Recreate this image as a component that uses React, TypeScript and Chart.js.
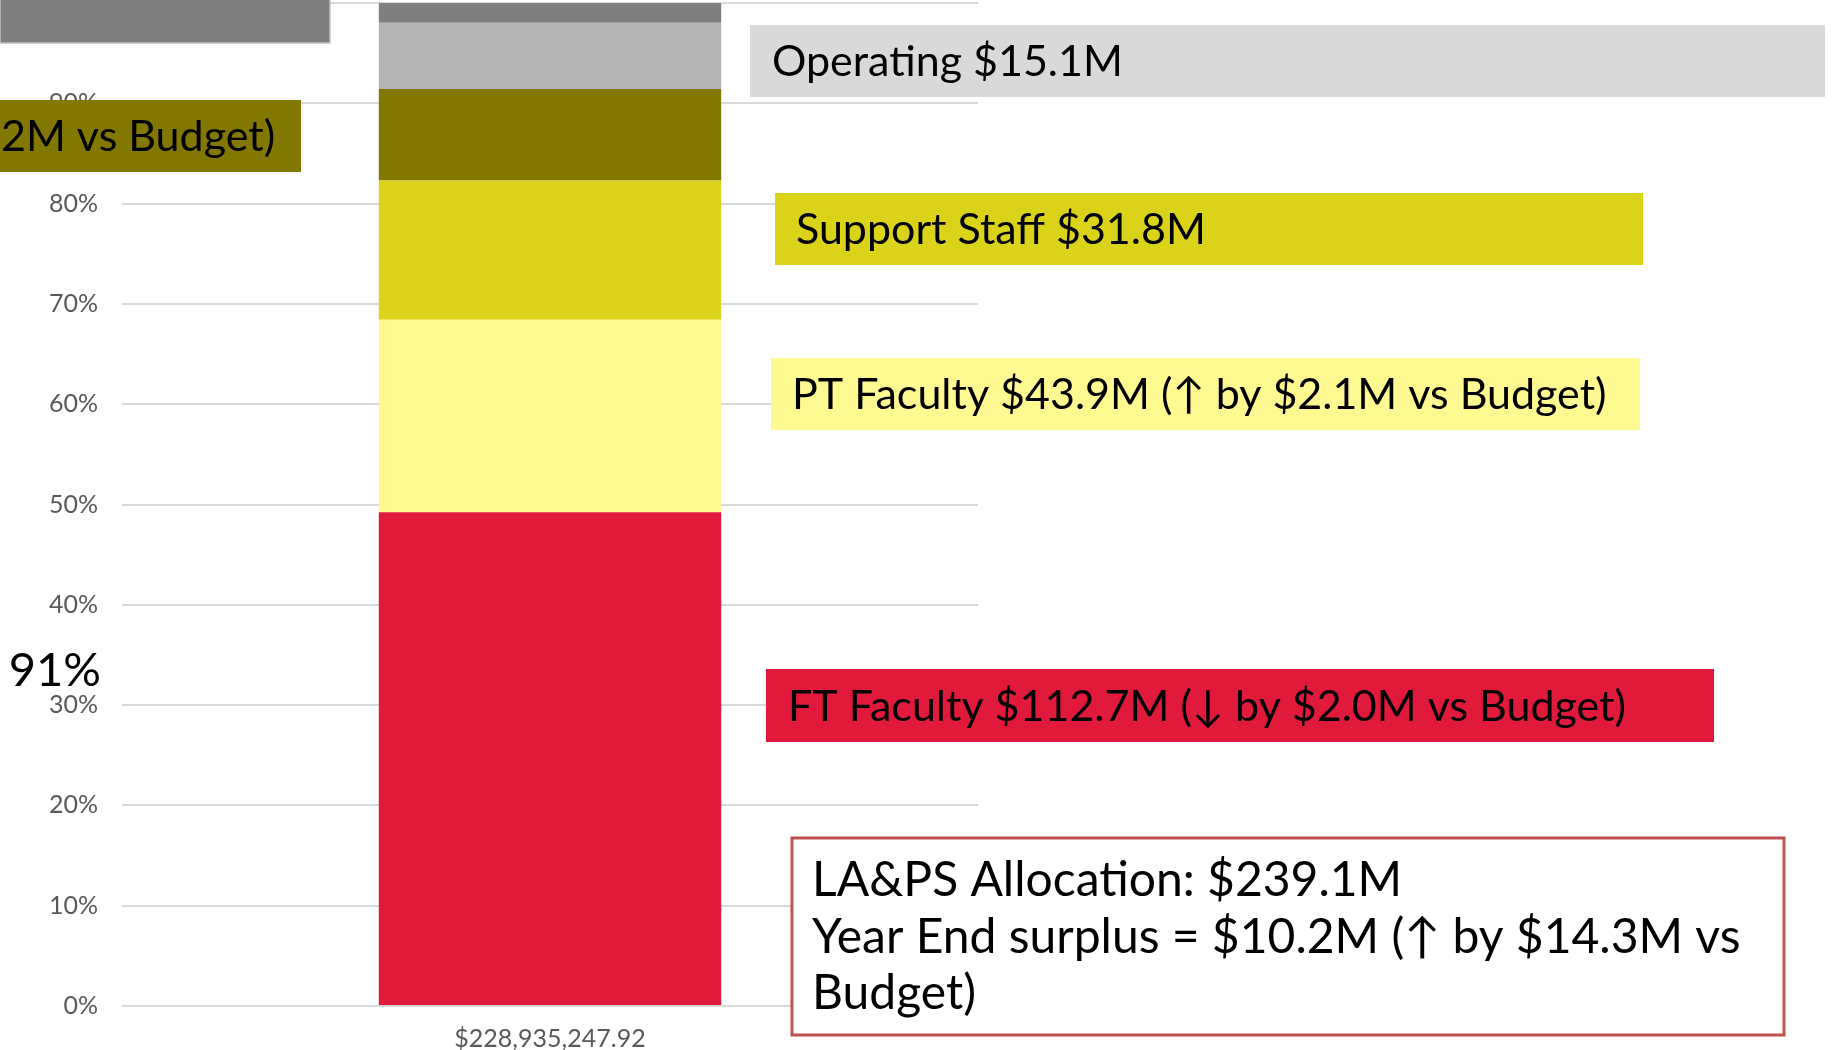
import React, { useEffect, useRef } from 'react';
import { Chart, registerables } from 'chart.js';

Chart.register(...registerables);

// ---------- data ----------
const categories = ['$228,935,247.92'];
const seriesNames = ['FT Faculty', 'PT Faculty', 'Support Staff', 'Other Salaries', 'Operating', 'Other'];
const seriesValuesM = [112.7, 43.9, 31.8, 20.9, 15.1, 4.5];
const seriesColors = ['#E1193A', '#FFF991', '#DBD31A', '#827800', '#B4B4B4', '#7F7F7F'];
const yTickValues = [0, 10, 20, 30, 40, 50, 60, 70, 80, 90, 100];
const salarySeriesCount = 4;

const labelTexts = [
  'Operating $15.1M',
  'Support Staff $31.8M',
  'PT Faculty $43.9M (↑ by $2.1M vs Budget)',
  'FT Faculty $112.7M (↓ by $2.0M vs Budget)',
  '2M vs Budget)',
];
const summaryLines = [
  'LA&PS Allocation: $239.1M',
  'Year End surplus = $10.2M (↑ by $14.3M vs',
  'Budget)',
];

// ---------- layout / style ----------
const W = 1833;
const H = 1050;
const FONT = 'Lato, "Liberation Sans", sans-serif';
const BIG = 43;
const SUMMARY = 48;
const CAP = 15;

type Box = { x: number; y: number; w: number; h: number; fill: string; stroke?: string; text?: string; tx?: number; align?: CanvasTextAlign };

const boxes: Box[] = [
  { x: 0, y: -2, w: 330, h: 45, fill: '#7F7F7F', stroke: '#C4BEB8' },
  { x: 750, y: 25, w: 1075, h: 72, fill: '#D9D9D9', text: labelTexts[0], tx: 772 },
  { x: 775, y: 193, w: 868, h: 72, fill: '#DBD31A', text: labelTexts[1], tx: 796 },
  { x: 771, y: 358, w: 869, h: 72, fill: '#FFF991', text: labelTexts[2], tx: 792 },
  { x: 766, y: 669, w: 948, h: 73, fill: '#E1193A', text: labelTexts[3], tx: 788 },
  { x: -2, y: 100, w: 303, h: 72, fill: '#827800', text: labelTexts[4], tx: 1, align: 'left' },
];

const total = seriesValuesM.reduce((a, b) => a + b, 0);
const shares = seriesValuesM.map((v) => (v / total) * 100);
const salaryShare = seriesValuesM.slice(0, salarySeriesCount).reduce((a, b) => a + b, 0) / total * 100;

const annotationPlugin = {
  id: 'annotations',
  afterDraw(chart: any) {
    const ctx: CanvasRenderingContext2D = chart.ctx;
    ctx.save();
    ctx.font = `${BIG}px ${FONT}`;
    ctx.textBaseline = 'alphabetic';
    for (const b of boxes) {
      ctx.fillStyle = b.fill;
      ctx.fillRect(b.x, b.y, b.w, b.h);
      if (b.stroke) {
        ctx.strokeStyle = b.stroke;
        ctx.lineWidth = 1.5;
        ctx.strokeRect(b.x, b.y, b.w, b.h);
      }
      if (b.text) {
        ctx.fillStyle = '#000000';
        ctx.textAlign = b.align || 'left';
        ctx.fillText(b.text, b.tx as number, b.y + b.h / 2 + CAP);
      }
    }
    // share of salaries
    ctx.font = `47px ${FONT}`;
    ctx.fillStyle = '#000000';
    ctx.textAlign = 'right';
    ctx.fillText(`${Math.round(salaryShare)}%`, 101, 686);

    // summary box
    ctx.fillStyle = '#FFFFFF';
    ctx.fillRect(792, 838, 992, 197);
    ctx.strokeStyle = '#C0504D';
    ctx.lineWidth = 3;
    ctx.strokeRect(792, 838, 992, 197);
    ctx.font = `${SUMMARY}px ${FONT}`;
    ctx.fillStyle = '#000000';
    ctx.textAlign = 'left';
    summaryLines.forEach((line, i) => {
      ctx.fillText(line, 812, 896 + i * 56.5);
    });
    ctx.restore();
  },
};

export default function App() {
  const ref = useRef<HTMLCanvasElement | null>(null);

  useEffect(() => {
    if (!ref.current) return;
    const chart = new Chart(ref.current, {
      type: 'bar',
      data: {
        labels: categories,
        datasets: seriesNames.map((name, i) => ({
          label: name,
          data: [shares[i]],
          backgroundColor: seriesColors[i],
          borderWidth: 0,
          barPercentage: 0.4,
          categoryPercentage: 1,
        })),
      },
      options: {
        animation: false,
        responsive: false,
        maintainAspectRatio: false,
        layout: { padding: { top: 3, right: W - 978, bottom: 0, left: 0 } },
        plugins: {
          legend: { display: false },
          tooltip: { enabled: false },
        },
        scales: {
          x: {
            stacked: true,
            grid: { display: false, drawTicks: false },
            border: { display: false },
            ticks: {
              color: '#595959',
              font: { family: FONT, size: 25 },
              padding: 18,
            },
            afterFit(scale: any) {
              scale.height = H - 1006;
              scale.paddingLeft = 0;
              scale.paddingRight = 0;
            },
          },
          y: {
            stacked: true,
            min: 0,
            max: 100,
            afterBuildTicks(scale: any) {
              scale.ticks = yTickValues.map((v) => ({ value: v }));
            },
            grid: { color: '#D9D9D9', lineWidth: 2, drawTicks: false },
            border: { display: false },
            ticks: {
              color: '#595959',
              font: { family: FONT, size: 25 },
              padding: 24,
              callback: (v: any) => `${v}%`,
            },
            afterFit(scale: any) {
              scale.width = 122;
              scale.paddingTop = 0;
              scale.paddingBottom = 0;
            },
          },
        },
      },
      plugins: [annotationPlugin],
    });
    return () => chart.destroy();
  }, []);

  return (
    <div style={{ position: 'fixed', left: 0, top: 0, width: W, height: H, background: '#FFFFFF' }}>
      <canvas ref={ref} width={W} height={H} style={{ display: 'block', width: W, height: H }} />
    </div>
  );
}
